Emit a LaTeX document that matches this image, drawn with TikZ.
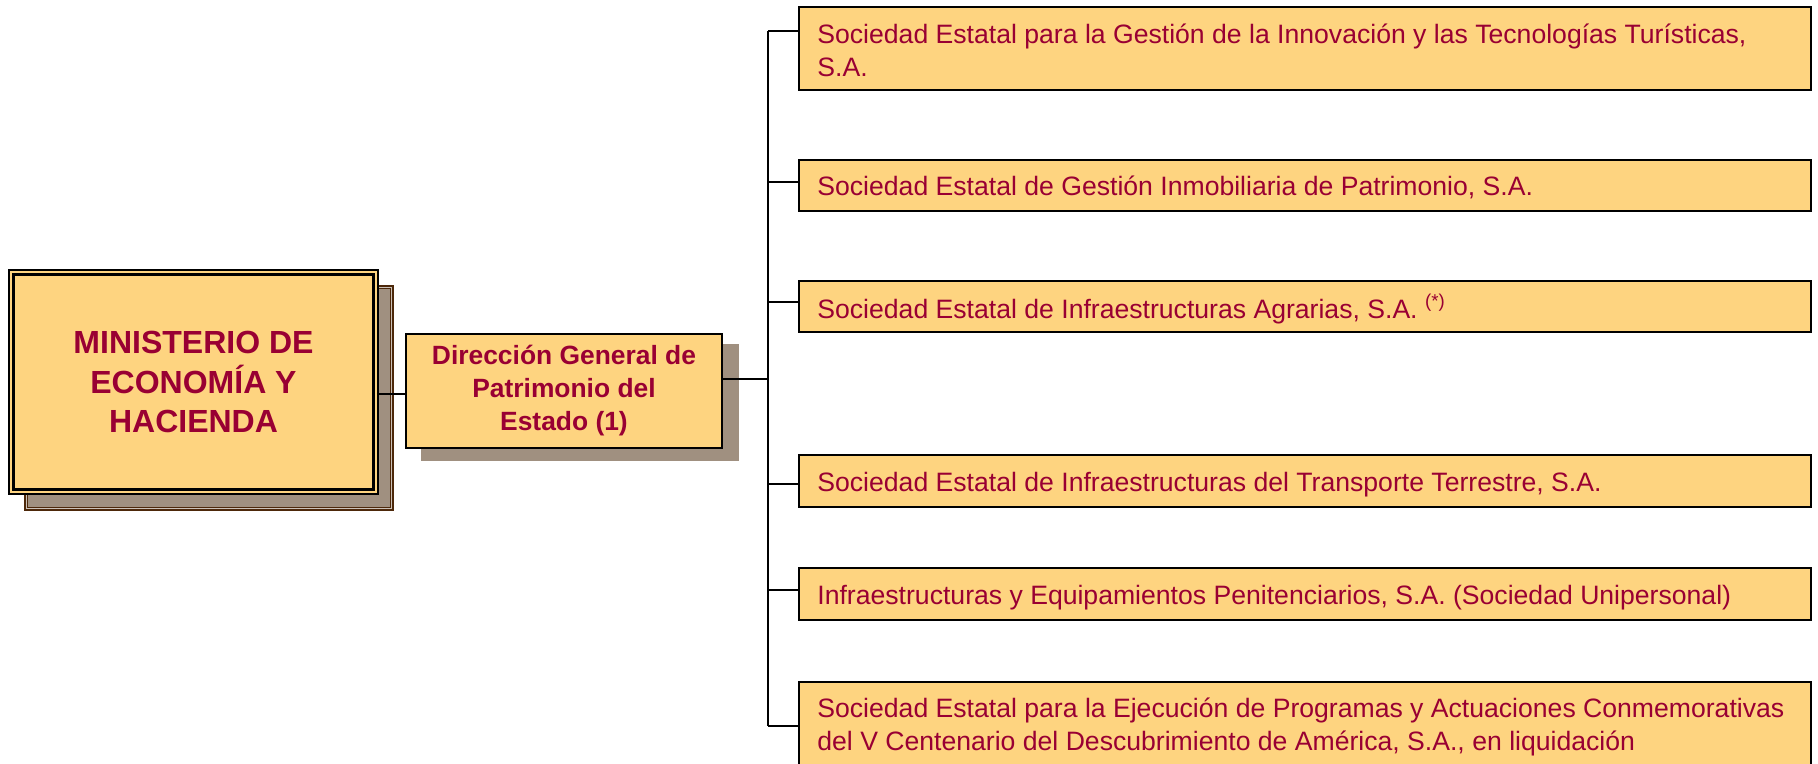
\documentclass[tikz,border=0pt]{standalone}
\usepackage{fontspec}
\setmainfont{Liberation Sans}
\definecolor{boxfill}{RGB}{254,212,128}
\definecolor{txtred}{RGB}{153,0,51}
\definecolor{shadowfill}{RGB}{160,144,128}
\definecolor{shadowline}{RGB}{77,40,10}
\begin{document}
\begin{tikzpicture}[x=0.5pt,y=-0.5pt,
  ministry/.style={draw=black, line width=1.2pt, double=boxfill, double distance=1pt,
    fill=boxfill, minimum width=182.1pt, minimum height=109.6pt, inner sep=0pt,
    align=center, text=txtred, font=\fontsize{16}{19.75}\selectfont\bfseries},
  ministryshadow/.style={draw=shadowline, line width=0.8pt, double=shadowfill!55!white,
    double distance=0.6pt, fill=shadowfill, minimum width=182.8pt, minimum height=110.8pt,
    inner sep=0pt},
  dgbox/.style={draw=black, line width=0.75pt, fill=boxfill, minimum width=158pt,
    minimum height=57pt, inner sep=0pt, align=center, text=txtred,
    font=\fontsize{13.2}{16.5}\selectfont\bfseries},
  dgshadow/.style={fill=shadowfill, minimum width=159pt, minimum height=58.5pt, inner sep=0pt},
  company/.style={draw=black, line width=1pt, fill=boxfill, minimum width=506pt, inner sep=0pt},
  comptext/.style={anchor=west, inner sep=0pt, align=left, text=txtred, xshift=9.5pt,
    font=\fontsize{13.3}{16.5}\selectfont},
  oneline/.style={comptext, text height=9.5pt, text depth=0pt},
  conn/.style={draw=black, line width=1pt}
]
\useasboundingbox (0,0) rectangle (1818,764);

% left boxes with shadows
\node[ministryshadow] (minsh) at (209,398) {};
\node[ministry] (min) at (193.5,382) {MINISTERIO DE\\ECONOMÍA Y\\HACIENDA};
\node[dgshadow] (dgsh) at (580,402.5) {};
\node[dgbox] (dg) at (564,391) {Dirección General de\\Patrimonio del\\Estado (1)};

% company boxes
\node[company, minimum height=41.5pt] (b1) at (1305,48.5) {};
\node[company, minimum height=25.5pt] (b2) at (1305,185.5) {};
\node[company, minimum height=25.5pt] (b3) at (1305,306.5) {};
\node[company, minimum height=26pt] (b4) at (1305,481) {};
\node[company, minimum height=26pt] (b5) at (1305,594) {};
\node[company, minimum height=42pt] (b6) at (1305,724) {};

% company texts
\node[comptext, yshift=-1pt] (t1) at (b1.west)
  {Sociedad Estatal para la Gestión de la Innovación y las Tecnologías Turísticas,\\S.A.};
\node[oneline, yshift=-0.5pt] (t2) at (b2.west)
  {Sociedad Estatal de Gestión Inmobiliaria de Patrimonio, S.A.};
\node[oneline, yshift=-1.2pt] (t3) at (b3.west)
  {Sociedad Estatal de Infraestructuras Agrarias, S.A. \textsuperscript{(*)}};
\node[oneline, yshift=-0.5pt] (t4) at (b4.west)
  {Sociedad Estatal de Infraestructuras del Transporte Terrestre, S.A.};
\node[oneline, yshift=-0.5pt] (t5) at (b5.west)
  {Infraestructuras y Equipamientos Penitenciarios, S.A. (Sociedad Unipersonal)};
\node[comptext, yshift=-1.5pt] (t6) at (b6.west)
  {Sociedad Estatal para la Ejecución de Programas y Actuaciones Conmemorativas\\del V Centenario del Descubrimiento de América, S.A., en liquidación};

% connectors
\path (min.east) ++(0,12) coordinate (l1);
\draw[conn] (l1) -- (l1 -| dg.west);
\coordinate (bustop) at (768,31);
\coordinate (busbot) at (768,726);
\path (dg.east) ++(0,-12) coordinate (l2);
\draw[conn] (l2) -- (l2 -| bustop);
\draw[conn] (bustop) -- (busbot);
\path (b1.west) ++(0,-17.5) coordinate (j1);
\path (b2.west) ++(0,-3.5) coordinate (j2);
\path (b3.west) ++(0,-4.5) coordinate (j3);
\path (b4.west) ++(0,3) coordinate (j4);
\path (b5.west) ++(0,-4) coordinate (j5);
\path (b6.west) ++(0,2) coordinate (j6);
\foreach \j in {j1,j2,j3,j4,j5,j6} {\draw[conn] (\j -| bustop) -- (\j);}
\end{tikzpicture}
\end{document}
